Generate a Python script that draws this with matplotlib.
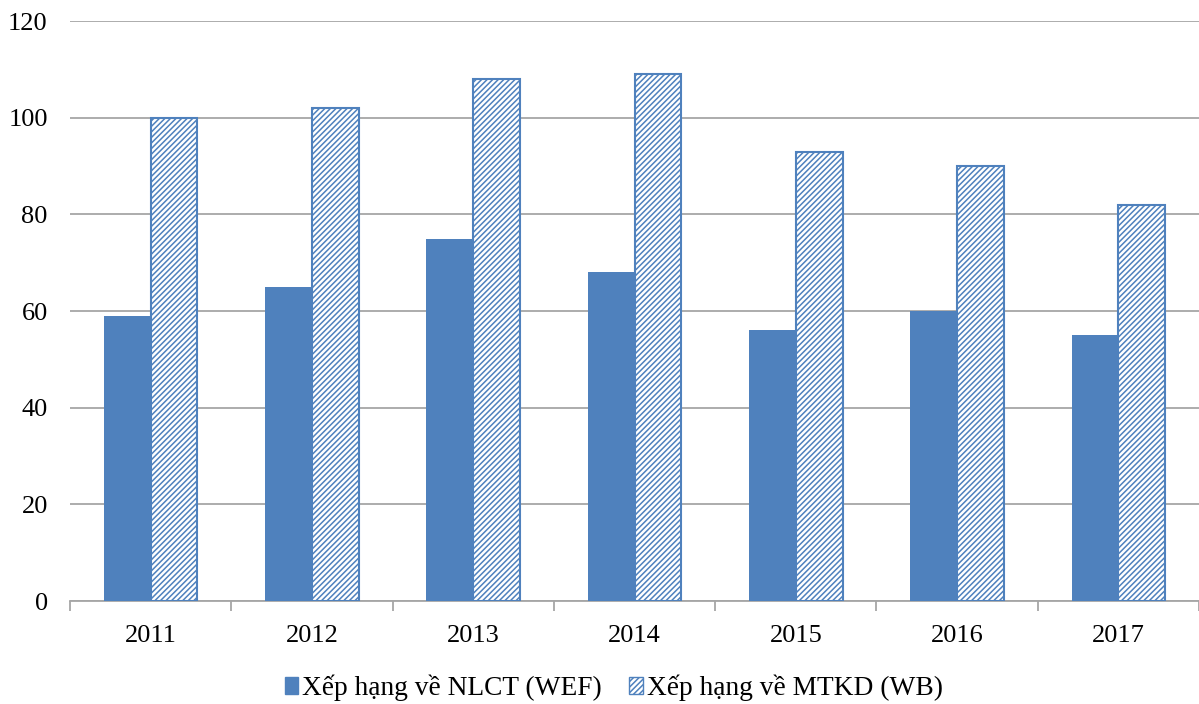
import numpy as np
import matplotlib.pyplot as plt
from matplotlib.patches import Patch

years = ["2011", "2012", "2013", "2014", "2015", "2016", "2017"]
nlct_wef = [59, 65, 75, 68, 56, 60, 55]
mtkd_wb = [100, 102, 108, 109, 93, 90, 82]

blue = "#4F81BD"
grey = "#A6A6A6"

plt.rcParams['font.family'] = ['Liberation Serif', 'DejaVu Serif']
plt.rcParams['hatch.linewidth'] = 1.1
plt.rcParams['hatch.color'] = blue

fig = plt.figure(figsize=(11.99, 7.04), dpi=100)
ax = fig.add_axes([70 / 1199, 1 - 601 / 704, 1129 / 1199, 580 / 704])

x = np.arange(len(years))
w = 0.29
ax.bar(x - w / 2, nlct_wef, w, color=blue, edgecolor=blue, linewidth=0, zorder=3)
ax.bar(x + w / 2, mtkd_wb, w, facecolor="white", edgecolor=blue, hatch="//////",
       linewidth=1.5, zorder=3)

ax.set_xlim(-0.5, len(years) - 0.5)
ax.set_ylim(0, 120)
ax.set_yticks(range(0, 121, 20))
ax.yaxis.grid(True, color=grey, linewidth=1.3, zorder=0)
ax.tick_params(axis="y", length=0, labelsize=19, pad=16)

ax.set_xticks(x)
ax.set_xticklabels(years, fontsize=19)
ax.tick_params(axis="x", which="major", length=0, pad=17)
ax.set_xticks(np.arange(-0.5, len(years)), minor=True)
ax.tick_params(axis="x", which="minor", length=7, width=1.3, color=grey, direction="out")

for s in ["top", "right", "left"]:
    ax.spines[s].set_visible(False)
ax.spines["bottom"].set_color(grey)
ax.spines["bottom"].set_linewidth(1.3)

handles = [Patch(facecolor=blue, edgecolor=blue, label="Xếp hạng về NLCT (WEF)"),
           Patch(facecolor="white", edgecolor=blue, hatch="//////", label="Xếp hạng về MTKD (WB)")]
fig.legend(handles=handles, loc="center", bbox_to_anchor=(0.512, 1 - 688 / 704), ncol=2,
           frameon=False, fontsize=19.7, handlelength=0.5, handleheight=0.6,
           handletextpad=0.15, columnspacing=1.0)

fig.savefig("out.png", dpi=100)
